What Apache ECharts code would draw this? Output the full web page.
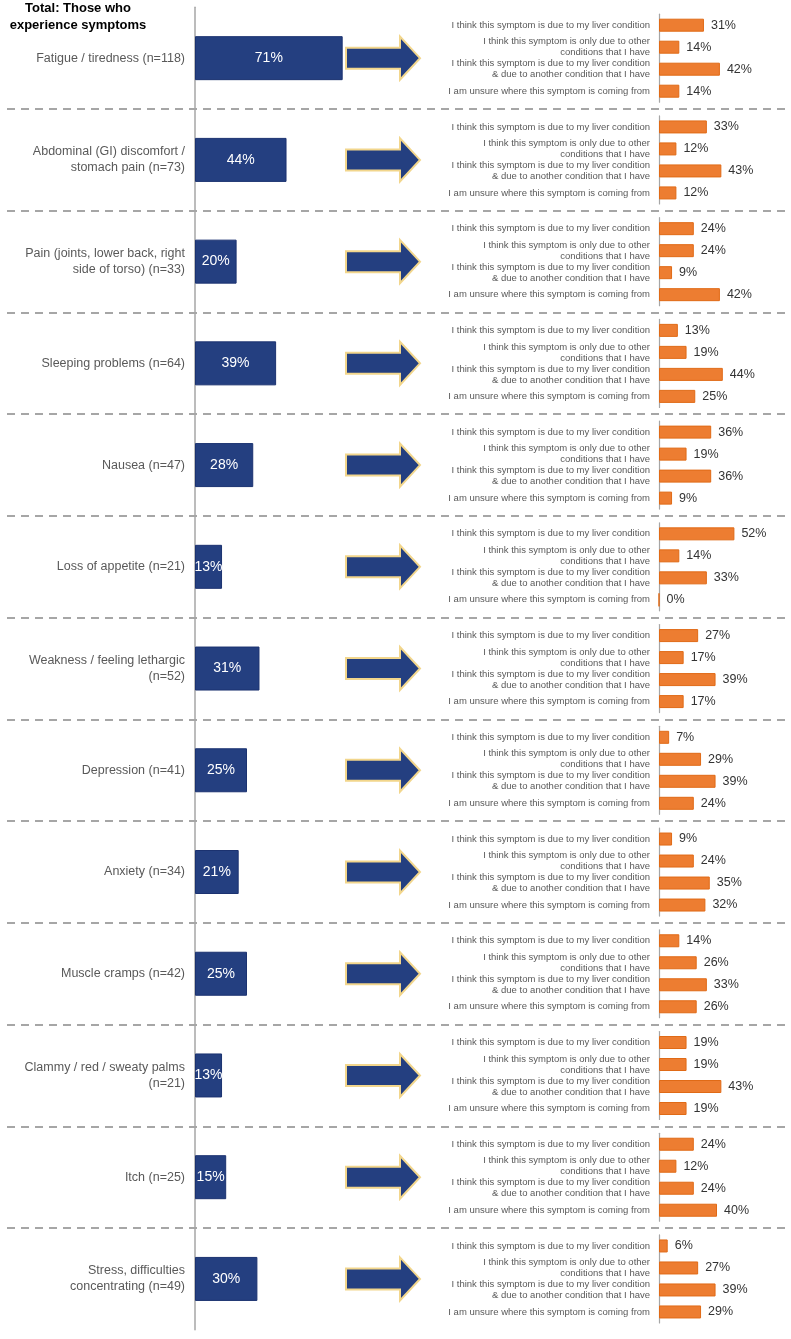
<!DOCTYPE html>
<html>
<head>
<meta charset="utf-8">
<script src="https://cdn.jsdelivr.net/npm/echarts@6/dist/echarts.min.js"></script>
<style>html,body{margin:0;padding:0;background:#fff}#c{width:791px;height:1339px}</style>
</head>
<body>
<div id="c"></div>
<script>
const symptoms = [
  "Fatigue / tiredness (n=118)",
  "Abdominal (GI) discomfort /\nstomach pain (n=73)",
  "Pain (joints, lower back, right\nside of torso) (n=33)",
  "Sleeping problems (n=64)",
  "Nausea (n=47)",
  "Loss of appetite (n=21)",
  "Weakness / feeling lethargic\n(n=52)",
  "Depression (n=41)",
  "Anxiety (n=34)",
  "Muscle cramps (n=42)",
  "Clammy / red / sweaty palms\n(n=21)",
  "Itch (n=25)",
  "Stress, difficulties\nconcentrating (n=49)"
];
const experience = [71, 44, 20, 39, 28, 13, 31, 25, 21, 25, 13, 15, 30];
const reasons = [
  "I think this symptom is due to my liver condition",
  "I think this symptom is only due to other\nconditions that I have",
  "I think this symptom is due to my liver condition\n& due to another condition that I have",
  "I am unsure where this symptom is coming from"
];
const dueToLiver    = [31, 33, 24, 13, 36, 52, 27, 7, 9, 14, 19, 24, 6];
const onlyOther     = [14, 12, 24, 19, 19, 14, 17, 29, 24, 26, 19, 12, 27];
const liverAndOther = [42, 43, 9, 44, 36, 33, 39, 39, 35, 33, 43, 24, 39];
const unsure        = [14, 12, 42, 25, 9, 0, 17, 24, 32, 26, 19, 40, 29];

const FONT = "Liberation Sans, Arial, sans-serif";
const top0 = 7.3, panelH = 101.73, N = symptoms.length;
const blue = '#243F80', orange = '#ED7D31', axisGray = '#A6A6A6';

const grids = [], xAxes = [], yAxes = [], series = [];

// grid 0: separators
grids.push({left: 7, right: 0, top: top0, height: panelH * N});
xAxes.push({gridIndex: 0, type: 'value', show: false, min: 0, max: 1});
yAxes.push({gridIndex: 0, type: 'value', min: 0, max: N, interval: 1, inverse: true,
  axisLabel: {show: false}, axisLine: {show: false}, axisTick: {show: false},
  splitLine: {show: true, showMinLine: false, showMaxLine: false,
    lineStyle: {color: axisGray, width: 2, type: [8, 6]}}});
series.push({type: 'scatter', xAxisIndex: 0, yAxisIndex: 0, data: [], silent: true});

// grid 1: left bars
grids.push({left: 195, width: 208, top: top0, height: panelH * N});
xAxes.push({gridIndex: 1, type: 'value', min: 0, max: 100, show: false});
yAxes.push({gridIndex: 1, type: 'category', inverse: true, data: symptoms,
  axisLine: {show: true, lineStyle: {color: axisGray, width: 1.5}},
  axisTick: {show: false},
  axisLabel: {color: '#595959', fontSize: 12.5, fontFamily: FONT, margin: 10, lineHeight: 16, align: 'right'},
  splitLine: {show: false}});
series.push({type: 'bar', xAxisIndex: 1, yAxisIndex: 1, data: experience, barWidth: 44,
  itemStyle: {color: blue, borderColor: '#1B3270', borderWidth: 1},
  label: {show: true, position: 'inside', color: '#fff', fontSize: 14, fontFamily: FONT,
    formatter: p => p.value + '%'}, z: 3});
series.push({type: 'custom', xAxisIndex: 1, yAxisIndex: 1, silent: true, z: 3,
  data: experience.map((v, i) => [0, i]),
  renderItem: function (params, api) {
    const y = api.coord([0, api.value(1)])[1];
    const x0 = 346, xb = 400, xe = 420, bh = 10.5, hh = 21.5;
    return {type: 'polygon',
      shape: {points: [[x0, y - bh], [xb, y - bh], [xb, y - hh], [xe, y], [xb, y + hh], [xb, y + bh], [x0, y + bh]]},
      style: {fill: blue, stroke: '#F2D68C', lineWidth: 2}};
  }});

// right grids
const rightData = [dueToLiver, onlyOther, liverAndOther, unsure];
for (let i = 0; i < N; i++) {
  const g = grids.length;
  grids.push({left: 659, width: 116, top: top0 + i * panelH + 6.9, height: 88});
  xAxes.push({gridIndex: g, type: 'value', min: 0, max: 80, show: false});
  yAxes.push({gridIndex: g, type: 'category', inverse: true, data: reasons,
    axisLine: {show: true, lineStyle: {color: axisGray, width: 1.2}},
    axisTick: {show: false},
    axisLabel: {color: '#595959', fontSize: 9.5, fontFamily: FONT, margin: 9, lineHeight: 11, align: 'right'},
    splitLine: {show: false}});
  series.push({type: 'bar', xAxisIndex: g, yAxisIndex: g, barWidth: 13,
    data: rightData.map(arr => arr[i]),
    itemStyle: {color: orange, borderColor: '#E06A16', borderWidth: 1},
    label: {show: true, position: 'right', distance: 7, color: '#333', fontSize: 12.5, fontFamily: FONT,
      formatter: p => p.value + '%'}});
}

const chart = echarts.init(document.getElementById('c'), null, {renderer: 'canvas'});
chart.setOption({
  animation: false,
  backgroundColor: '#fff',
  title: {text: 'Total: Those who\nexperience symptoms', left: 78, top: 0, padding: 0, textAlign: 'center',
    textStyle: {fontSize: 13, fontWeight: 'bold', color: '#000', fontFamily: FONT, lineHeight: 17}},
  grid: grids, xAxis: xAxes, yAxis: yAxes, series: series
});
</script>
</body>
</html>
